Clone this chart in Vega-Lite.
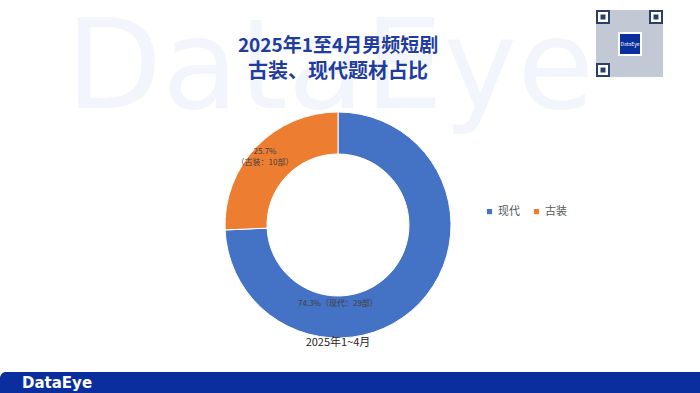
{
  "$schema": "https://vega.github.io/schema/vega-lite/v6.json",
  "width": 700,
  "height": 393,
  "autosize": {"type": "fit", "contains": "padding"},
  "padding": 0,
  "background": "#ffffff",
  "config": {"view": {"stroke": null}, "font": "Noto Sans CJK SC"},
  "data": {"values": [
    {"type": "现代", "pct": 74.3, "count": 29, "order": 1, "label1": "74.3%（现代：29部）", "label2": ""},
    {"type": "古装", "pct": 25.7, "count": 10, "order": 2, "label1": "25.7%", "label2": "（古装：10部）"}
  ]},
  "layer": [
    {
      "data": {"values": [{"t": "DataEye"}]},
      "mark": {"type": "text", "x": 330, "y": 108, "fontSize": 125, "fontWeight": "normal", "font": "DejaVu Sans", "color": "#F2F6FC", "align": "center", "baseline": "alphabetic"},
      "encoding": {"text": {"field": "t"}}
    },
    {
      "data": {"values": [{"t": "2025年1至4月男频短剧"}]},
      "mark": {"type": "text", "x": 338, "y": 46, "fontSize": 19, "fontWeight": "bold", "color": "#1F3C9E", "align": "center", "baseline": "middle"},
      "encoding": {"text": {"field": "t"}}
    },
    {
      "data": {"values": [{"t": "古装、现代题材占比"}]},
      "mark": {"type": "text", "x": 338, "y": 72, "fontSize": 20, "fontWeight": "bold", "color": "#1F3C9E", "align": "center", "baseline": "middle"},
      "encoding": {"text": {"field": "t"}}
    },
    {
      "mark": {"type": "arc", "x": 338, "y": 225, "outerRadius": 113, "innerRadius": 71, "stroke": "#ffffff", "strokeWidth": 1},
      "encoding": {
        "theta": {"field": "pct", "type": "quantitative", "stack": true},
        "order": {"field": "order", "type": "ordinal"},
        "color": {
          "field": "type", "type": "nominal",
          "scale": {"domain": ["现代", "古装"], "range": ["#4472C4", "#ED7D31"]},
          "legend": {"title": null, "orient": "none", "legendX": 484, "legendY": 206, "direction": "horizontal", "symbolType": "square", "symbolSize": 45, "labelFontSize": 11, "labelColor": "#595959", "columnPadding": 10, "labelOffset": 3}
        }
      }
    },
    {
      "transform": [{"filter": "datum.type == '现代'"}],
      "mark": {"type": "text", "x": 338, "y": 225, "radius": 79, "thetaOffset": 0.808, "fontSize": 8, "color": "#404040", "align": "center", "baseline": "middle"},
      "encoding": {
        "theta": {"field": "pct", "type": "quantitative", "stack": true, "scale": {"domain": [0, 100]}},
        "text": {"field": "label1"}
      }
    },
    {
      "data": {"values": [{"t1": "25.7%"}]},
      "mark": {"type": "text", "x": 265, "y": 152, "fontSize": 8, "color": "#404040", "align": "center", "baseline": "middle"},
      "encoding": {"text": {"field": "t1"}}
    },
    {
      "data": {"values": [{"t2": "（古装：10部）"}]},
      "mark": {"type": "text", "x": 265, "y": 163, "fontSize": 8, "color": "#404040", "align": "center", "baseline": "middle"},
      "encoding": {"text": {"field": "t2"}}
    },
    {
      "data": {"values": [{"t": "2025年1~4月"}]},
      "mark": {"type": "text", "x": 338, "y": 343, "fontSize": 11, "color": "#262626", "align": "center", "baseline": "middle"},
      "encoding": {"text": {"field": "t"}}
    },
    {
      "data": {"values": [{}]},
      "mark": {"type": "rect", "x": 0, "x2": 700, "y": 372, "y2": 393, "fill": "#0B2E9E", "cornerRadiusTopLeft": 6},
      "encoding": {}
    },
    {
      "data": {"values": [{"t": "DataEye"}]},
      "mark": {"type": "text", "x": 22, "y": 383, "fontSize": 15, "fontWeight": "bold", "font": "DejaVu Sans", "color": "#ffffff", "align": "left", "baseline": "middle"},
      "encoding": {"text": {"field": "t"}}
    },
    {
      "data": {"values": [{}]},
      "mark": {"type": "rect", "x": 596, "x2": 663, "y": 10, "y2": 77, "fill": "#C3C9D4"},
      "encoding": {}
    },
    {
      "data": {"values": [{"a": 603, "b": 17}, {"a": 656, "b": 17}, {"a": 603, "b": 70}]},
      "layer": [
        {"mark": {"type": "rect", "width": 12, "height": 12, "fill": "#ffffff", "stroke": "#2B3F6B", "strokeWidth": 2}},
        {"mark": {"type": "rect", "width": 5, "height": 5, "fill": "#2B3F6B"}}
      ],
      "encoding": {
        "x": {"field": "a", "type": "quantitative", "scale": {"domain": [0, 700], "range": [0, 700]}, "axis": null},
        "y": {"field": "b", "type": "quantitative", "scale": {"domain": [0, 393], "range": [0, 393]}, "axis": null}
      }
    },
    {
      "data": {"values": [{}]},
      "mark": {"type": "rect", "x": 619, "x2": 641, "y": 33, "y2": 55, "fill": "#0B2E9E", "stroke": "#ffffff", "strokeWidth": 2},
      "encoding": {}
    },
    {
      "data": {"values": [{"t": "DataEye"}]},
      "mark": {"type": "text", "x": 630, "y": 44, "fontSize": 5, "color": "#ffffff", "align": "center", "baseline": "middle"},
      "encoding": {"text": {"field": "t"}}
    }
  ],
  "resolve": {"scale": {"theta": "independent", "x": "independent", "y": "independent"}}
}
